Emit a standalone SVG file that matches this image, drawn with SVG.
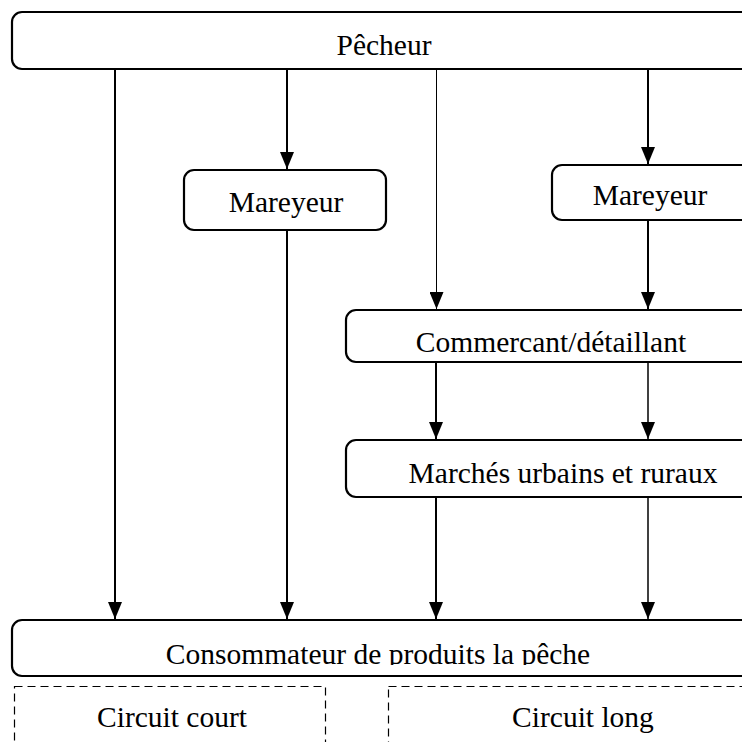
<svg xmlns="http://www.w3.org/2000/svg" width="742" height="742" viewBox="0 0 742 742">
<style>
.box{fill:#fff;stroke:#000;stroke-width:2.2}
.dash{fill:none;stroke:#000;stroke-width:1.2;stroke-dasharray:8 5}
.t{font-family:"Liberation Serif","Times New Roman",serif;font-size:29.5px;fill:#000;text-anchor:middle}
.c{stroke:#000;stroke-width:2;fill:none}
.mid{stroke-width:1.5}
.thin{stroke-width:1}
</style>
<defs>
<marker id="ah" viewBox="0 0 17 14" refX="17" refY="7" markerWidth="17" markerHeight="14" markerUnits="userSpaceOnUse" orient="auto">
<path d="M0,0 L17,7 L0,14 Z" fill="#000"/>
</marker>
<clipPath id="clipBottom"><rect x="0" y="620" width="742" height="45"/></clipPath>
</defs>
<rect width="742" height="742" fill="#fff"/>
<g id="connectors">
<line class="c" x1="115" y1="69" x2="115" y2="619" marker-end="url(#ah)"/>
<line class="c" x1="287" y1="69" x2="287" y2="169" marker-end="url(#ah)"/>
<line class="c thin" x1="436.5" y1="69" x2="436.5" y2="309" marker-end="url(#ah)"/>
<line class="c" x1="648" y1="69" x2="648" y2="164" marker-end="url(#ah)"/>
<line class="c" x1="287" y1="230" x2="287" y2="619" marker-end="url(#ah)"/>
<line class="c" x1="648" y1="220" x2="648" y2="309" marker-end="url(#ah)"/>
<line class="c" x1="436" y1="362" x2="436" y2="439" marker-end="url(#ah)"/>
<line class="c mid" x1="648" y1="362" x2="648" y2="439" marker-end="url(#ah)"/>
<line class="c" x1="436" y1="497" x2="436" y2="619" marker-end="url(#ah)"/>
<line class="c mid" x1="648" y1="497" x2="648" y2="619" marker-end="url(#ah)"/>
</g>
<g id="pecheur">
<rect class="box" x="12" y="12" width="760" height="57" rx="10"/>
<text class="t" x="384" y="55">Pêcheur</text>
</g>
<g id="mareyeur1">
<rect class="box" x="184" y="170" width="202" height="60" rx="10"/>
<text class="t" x="286" y="212">Mareyeur</text>
</g>
<g id="mareyeur2">
<rect class="box" x="552" y="165" width="220" height="55" rx="10"/>
<text class="t" x="650" y="205">Mareyeur</text>
</g>
<g id="commercant">
<rect class="box" x="346" y="310" width="420" height="52" rx="10"/>
<text class="t" x="551" y="352">Commercant/détaillant</text>
</g>
<g id="marches">
<rect class="box" x="346" y="440" width="420" height="57" rx="10"/>
<text class="t" x="563" y="483">Marchés urbains et ruraux</text>
</g>
<g id="consommateur">
<rect class="box" x="12" y="620" width="760" height="56" rx="10"/>
<text class="t" x="378" y="664" clip-path="url(#clipBottom)">Consommateur de produits la pêche</text>
</g>
<g id="circuit-court">
<rect class="dash" x="14.5" y="686.5" width="311" height="80"/>
<text class="t" x="172" y="727">Circuit court</text>
</g>
<g id="circuit-long">
<rect class="dash" x="388.5" y="686.5" width="400" height="80"/>
<text class="t" x="583" y="727">Circuit long</text>
</g>
</svg>
